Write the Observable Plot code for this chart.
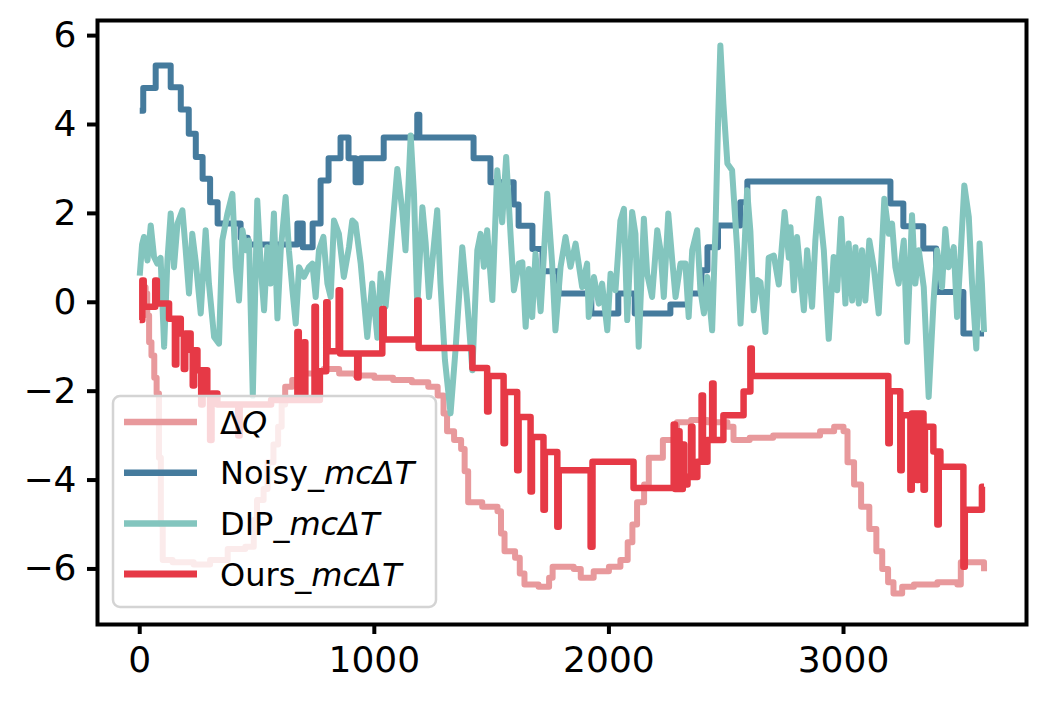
<!DOCTYPE html>
<html><head><meta charset="utf-8">
<script src="https://cdn.jsdelivr.net/npm/d3@7"></script>
<script src="https://cdn.jsdelivr.net/npm/@observablehq/plot@0.6"></script>
<style>body{margin:0;background:#fff}#chart{width:1047px;height:702px}</style>
</head><body><div id="chart"></div>
<script>
// ---- data ----
const seriesNames = ["ΔQ", "Noisy_mcΔT", "DIP_mcΔT", "Ours_mcΔT"];
const legendPlain = ["Δ", "Noisy_", "DIP_", "Ours_"];
const legendItalic = ["Q", "mcΔT", "mcΔT", "mcΔT"];
const seriesColors = ["#E8999C", "#457B9D", "#83C5BE", "#E63946"];
const xTicks = [0, 1000, 2000, 3000];
const yTicks = [-6, -4, -2, 0, 2, 4, 6];

const dqX = [0,25,32,40,50,62,72,82,90,98,140,230,300,375,450,486,500,528,545,570,590,605,620,650,700,760,784,850,920,1000,1080,1160,1230,1270,1295,1310,1340,1370,1385,1400,1460,1525,1540,1555,1600,1620,1640,1700,1745,1760,1850,1880,1935,2000,2049,2080,2100,2120,2150,2170,2230,2290,2350,2420,2505,2531,2600,2700,2800,2900,2960,3000,3017,3045,3075,3110,3140,3165,3190,3213,3250,3300,3400,3485,3500,3580,3599];
const dqY = [0.34,0.2,-0.3,-0.9,-1.2,-1.7,-2.05,-3.5,-5.0,-5.8,-5.85,-5.9,-5.8,-5.55,-5.5,-4.9,-4.45,-4.2,-3.6,-3.2,-2.8,-2.3,-1.9,-1.75,-1.6,-1.55,-1.5,-1.6,-1.65,-1.7,-1.75,-1.8,-1.9,-2.1,-2.5,-2.9,-3.1,-3.3,-3.8,-4.5,-4.6,-4.7,-5.2,-5.6,-5.75,-6.1,-6.35,-6.4,-6.2,-5.95,-6.0,-6.2,-6.05,-5.95,-5.8,-5.4,-5.0,-4.5,-4.1,-3.5,-3.1,-2.7,-2.65,-2.7,-2.8,-3.1,-3.05,-3.0,-3.0,-2.9,-2.8,-2.9,-3.6,-4.1,-4.6,-5.1,-5.6,-6.0,-6.3,-6.55,-6.4,-6.35,-6.3,-6.35,-5.85,-5.85,-6.05];

const noisyX = [0,15,68,132,175,209,239,268,300,332,430,460,672,695,737,771,805,856,890,920,942,1040,1183,1192,1423,1495,1594,1615,1674,1717,1785,1925,2040,2110,2262,2340,2395,2420,2465,2560,2590,3200,3255,3340,3395,3511,3599];
const noisyY = [4.31,4.82,5.33,4.84,4.34,3.79,3.27,2.78,2.25,1.77,1.45,1.3,1.77,1.24,1.77,2.74,3.24,3.71,3.24,2.7,3.24,3.71,4.22,3.71,3.24,2.7,2.2,1.72,1.2,0.7,0.2,-0.25,0.2,-0.25,-0.05,0.2,0.72,1.24,1.73,2.25,2.72,2.22,1.71,1.21,0.23,-0.7,-0.7];

const dipX = [0,10,18,33,47,61,75,89,104,118,132,146,161,182,196,210,224,239,260,281,295,317,338,352,374,395,409,423,438,452,466,482,501,516,530,544,558,572,587,601,622,636,651,665,679,700,721,736,750,764,783,800,814,828,849,870,892,906,920,942,970,991,1013,1027,1048,1069,1098,1119,1133,1155,1169,1183,1205,1219,1233,1268,1282,1301,1325,1346,1375,1396,1418,1439,1453,1467,1481,1503,1524,1545,1562,1581,1595,1616,1631,1645,1659,1673,1687,1709,1723,1737,1758,1772,1794,1815,1836,1858,1886,1907,1914,1936,1957,1971,1993,2007,2028,2049,2064,2078,2099,2113,2127,2149,2163,2184,2206,2220,2234,2253,2270,2284,2305,2326,2340,2355,2376,2390,2405,2419,2440,2455,2465,2475,2488,2505,2525,2547,2561,2575,2589,2603,2617,2632,2646,2667,2681,2703,2724,2749,2767,2774,2788,2802,2831,2845,2866,2880,2894,2916,2937,2958,2973,2990,3008,3022,3037,3051,3065,3079,3093,3110,3129,3150,3174,3193,3207,3221,3235,3257,3271,3292,3306,3321,3342,3363,3384,3399,3420,3434,3448,3470,3484,3498,3515,3534,3548,3566,3580,3590,3599];
const dipY = [0.6,1.3,1.47,0.94,1.73,1.02,0.87,1.0,-1.0,0.94,2.0,0.79,1.77,2.07,1.17,0.2,1.54,0.9,-0.25,1.62,0.42,-0.78,-0.93,1.39,2.0,2.44,0.79,0.04,1.62,1.17,1.39,-2.1,2.29,0.79,-0.18,1.24,0.42,2.0,-0.36,1.17,2.37,1.17,0.27,-0.48,0.79,0.57,0.79,0.87,0.12,1.17,1.47,0.42,0.12,1.84,1.54,0.57,1.24,1.84,1.77,0.87,-0.78,0.42,-0.8,0.65,-0.1,1.17,3.0,2.07,1.17,3.75,2.44,-0.1,2.14,1.32,0.12,2.07,0.42,-1.3,-2.5,-1.08,1.24,0.0,-1.53,1.17,1.54,0.8,1.62,0.05,2.97,1.8,3.27,1.5,0.27,0.87,0.9,-0.55,0.75,-0.33,1.09,-0.2,1.1,2.44,0.87,-0.63,0.8,1.47,0.8,1.32,0.34,0.87,-0.33,0.57,-0.03,0.42,-0.63,0.64,0.27,1.84,2.1,-0.4,2.03,1.54,-1.0,1.88,0.64,0.12,1.62,1.17,0.12,2.0,0.94,0.12,0.87,0.87,-0.33,1.17,1.62,0.27,-0.25,0.57,-0.63,1.8,4.0,5.78,4.47,3.12,2.97,1.17,-0.48,0.9,2.52,1.6,-0.18,0.5,0.45,-0.67,1.0,1.05,0.4,2.03,1.0,1.69,0.27,1.47,-0.18,1.17,-0.1,1.39,2.33,1.17,-0.82,1.02,0.27,1.88,-0.03,1.32,0.04,1.24,-0.03,1.17,0.04,1.39,0.79,-0.25,2.33,1.54,1.77,0.79,0.42,1.39,-0.89,1.96,0.42,1.17,0.34,-2.13,0.04,1.17,0.34,1.65,0.79,1.24,-0.33,0.94,2.63,1.92,0.42,-1.04,1.32,0.42,-0.67];

const oursX = [0,11,17,66,73,125,150,156,175,188,194,217,226,232,246,262,268,288,300,306,331,420,426,560,672,678,700,706,745,751,768,795,801,848,854,927,933,1034,1040,1183,1189,1418,1481,1487,1551,1557,1609,1615,1666,1672,1721,1727,1780,1786,1922,1930,2105,2276,2282,2295,2301,2315,2321,2335,2350,2356,2377,2395,2401,2420,2440,2446,2488,2574,2603,2609,3191,3197,3242,3248,3285,3291,3313,3319,3341,3347,3383,3400,3406,3413,3511,3517,3590,3599];
const oursY = [-0.4,0.49,-0.1,0.49,-0.03,-0.37,-1.4,-0.37,-0.7,-1.5,-0.7,-1.08,-1.87,-1.08,-1.53,-2.3,-1.53,-2.05,-3.1,-2.05,-2.3,-3.0,-2.3,-2.2,-0.67,-2.2,-0.9,-2.2,-0.1,-2.2,-1.55,0.0,-1.1,0.27,-1.15,-1.69,-1.15,-0.15,-0.84,0.04,-1.03,-1.48,-2.46,-1.66,-3.17,-2.02,-3.78,-2.58,-4.26,-3.03,-4.67,-3.37,-5.05,-3.78,-5.5,-3.59,-4.18,-2.75,-4.2,-2.9,-4.2,-3.2,-4.1,-3.93,-2.8,-3.93,-3.59,-2.1,-3.59,-3.1,-1.83,-3.1,-2.54,-2.01,-1.04,-1.66,-3.17,-2.0,-3.78,-2.54,-4.22,-2.5,-4.0,-2.5,-4.22,-2.8,-3.36,-5.0,-3.36,-3.7,-5.95,-4.67,-4.15,-4.15];

// ---- tables ----
const rows = (xs, ys) => xs.map((x, i) => ({x, y: ys[i]}));
const tables = [rows(dqX, dqY), rows(noisyX, noisyY), rows(dipX, dipY), rows(oursX, oursY)];
const curves = ["step-after", "step-after", "linear", "step-after"];
const widths = [6, 6, 6, 6.5];

const plot = Plot.plot({
  width: 1047, height: 702,
  marginLeft: 97, marginRight: 21, marginTop: 20, marginBottom: 78,
  x: {domain: [-180, 3780]},
  y: {domain: [-7.25, 6.34]},
  style: {fontFamily: "DejaVu Sans", fontSize: "36px", background: "white", color: "black", overflow: "visible"},
  marks: [
    ...tables.map((t, i) => Plot.line(t, {x: "x", y: "y", stroke: seriesColors[i], strokeWidth: widths[i], curve: curves[i], strokeLinejoin: "round", strokeLinecap: "butt"})),
    Plot.frame({stroke: "black", strokeWidth: 4}),
    Plot.axisX({ticks: xTicks, tickSize: 10, tickPadding: 12, strokeWidth: 4, fontSize: 36, label: null, tickFormat: d => String(d)}),
    Plot.axisY({ticks: yTicks, tickSize: 10, tickPadding: 11, strokeWidth: 4, fontSize: 36, label: null, tickFormat: d => d < 0 ? "\u2212" + (-d) : String(d)})
  ]
});
document.getElementById("chart").appendChild(plot);

// ---- legend (inside axes, lower left) ----
const svg = d3.select(plot);
const lg = svg.append("g").attr("font-family", "DejaVu Sans").attr("font-size", 32).attr("text-anchor", "start");
lg.append("rect").attr("x", 113).attr("y", 396).attr("width", 323).attr("height", 211).attr("rx", 7)
  .attr("fill", "white").attr("fill-opacity", 0.8).attr("stroke", "#d4d4d4").attr("stroke-width", 2.5);
seriesNames.forEach((name, i) => {
  const cy = 422 + 50.7 * i;
  lg.append("line").attr("x1", 124).attr("x2", 197).attr("y1", cy).attr("y2", cy)
    .attr("stroke", seriesColors[i]).attr("stroke-width", widths[i] + 0.5);
  const t = lg.append("text").attr("x", 220).attr("y", cy).attr("dy", "0.36em").attr("fill", "black").attr("text-anchor", "start");
  t.append("tspan").text(legendPlain[i]);
  t.append("tspan").attr("font-style", "italic").text(legendItalic[i]);
});
</script></body></html>
